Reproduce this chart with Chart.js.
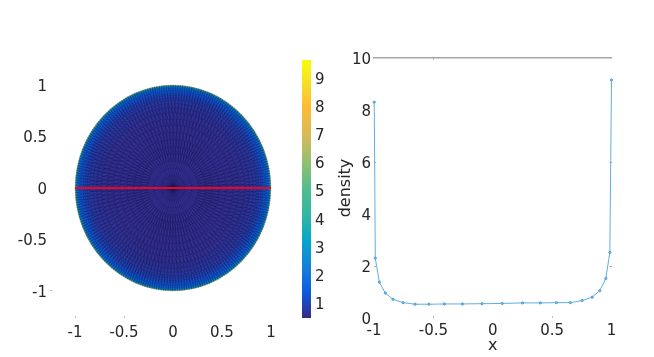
<!DOCTYPE html>
<html>
<head>
<meta charset="utf-8">
<style>
    html, body { margin: 0; padding: 0; background: #fff; }
    canvas { position: absolute; left: 0; top: 0; }
</style>
<script src="https://cdn.jsdelivr.net/npm/chart.js@4"></script>
</head>
<body>
<canvas id="diskChart" width="654" height="357"></canvas>
<canvas id="barChart" width="654" height="357"></canvas>
<canvas id="densityChart" width="654" height="357"></canvas>
<script>
// ===== DATA =====
const densityX = [-0.998, -0.989, -0.955, -0.905, -0.84, -0.755, -0.654, -0.538, -0.407, -0.255, -0.091, 0.08, 0.251, 0.401, 0.536, 0.654, 0.753, 0.837, 0.901, 0.952, 0.986, 1.0];
const densityY = [8.3, 2.3, 1.38, 0.96, 0.72, 0.59, 0.53, 0.53, 0.54, 0.54, 0.55, 0.56, 0.58, 0.58, 0.59, 0.59, 0.67, 0.8, 1.05, 1.52, 2.52, 9.15];

const diskTicks = [-1, -0.5, 0, 0.5, 1];
const colorbarTicks = [1, 2, 3, 4, 5, 6, 7, 8, 9];
const densityXTicks = [-1, -0.5, 0, 0.5, 1];
const densityYTicks = [0, 2, 4, 6, 8, 10];

// section line across the disk
const sectionX = [-1, 1];
const sectionY = [0, 0];

// mesh rings (outer radius) and the density shown in each ring
const ringRadius = [1.0, 0.993, 0.982, 0.97, 0.955, 0.94, 0.92, 0.9, 0.875, 0.85, 0.82, 0.78, 0.73, 0.67, 0.61, 0.54, 0.47, 0.4, 0.33, 0.26, 0.19, 0.12];
const ringDensity = [5.6, 2.6, 2.0, 1.7, 1.45, 1.25, 1.05, 0.92, 0.82, 0.74, 0.68, 0.62, 0.58, 0.56, 0.55, 0.55, 0.55, 0.55, 0.55, 0.55, 0.55, 0.55];
const ringSpokes = [260, 260, 260, 260, 260, 200, 200, 200, 200, 150, 150, 150, 120, 120, 96, 96, 96, 96, 72, 72, 48, 48];

// colour scale, value -> colour
const colorValues = [0.47, 1.4, 2.3, 3.2, 4.1, 5.0, 6.0, 7.0, 8.0, 9.0, 9.64];
const colorStops = ['#352a87', '#0f5cdd', '#1481d6', '#06a4ca', '#2eb7a4', '#4fbc8f', '#92bf73', '#d9ba56', '#fdbb35', '#f6e620', '#f9fb0e'];

const textColor = '#262626';
const tickFont = { family: '"DejaVu Sans"', size: 15 };
const titleFont = { family: '"DejaVu Sans"', size: 16 };

function densityColor(value) {
    for (let i = 1; i < colorValues.length; i++) {
        if (value <= colorValues[i]) {
            const t = (value - colorValues[i - 1]) / (colorValues[i] - colorValues[i - 1]);
            const a = parseInt(colorStops[i - 1].slice(1), 16);
            const b = parseInt(colorStops[i].slice(1), 16);
            const mix = shift => Math.round(((a >> shift) & 255) * (1 - t) + ((b >> shift) & 255) * t);
            return `rgb(${mix(16)}, ${mix(8)}, ${mix(0)})`;
        }
    }
    return colorStops[colorStops.length - 1];
}

function fixedTicks(values) {
    return scale => { scale.ticks = values.map(v => ({ value: v })); };
}

// y tick labels sit a bit lower than canvas middle baseline gives
const labelNudgePlugin = {
    id: 'labelNudge',
    beforeDraw(chart) {
        Object.values(chart.scales).forEach(scale => {
            if (scale.axis === 'y' && scale.options.ticks.display) {
                scale.getLabelItems().forEach(item => { item.options.translation[1] += 2; });
            }
        });
    }
};

// fills the disk rings and strokes the triangle mesh, all through the chart scales
const meshPlugin = {
    id: 'mesh',
    beforeDatasetsDraw(chart) {
        const { ctx, scales: { x, y } } = chart;
        const cx = x.getPixelForValue(0);
        const cy = y.getPixelForValue(0);
        const rx = r => x.getPixelForValue(r) - cx;
        const ry = r => cy - y.getPixelForValue(r);
        const px = (r, a) => cx + rx(r) * Math.cos(a);
        const py = (r, a) => cy + ry(r) * Math.sin(a);

        ctx.save();
        ringRadius.forEach((r, i) => {
            ctx.fillStyle = densityColor(ringDensity[i]);
            ctx.beginPath();
            ctx.ellipse(cx, cy, rx(r), ry(r), 0, 0, Math.PI * 2);
            ctx.fill();
        });

        // spokes and diagonals
        ctx.strokeStyle = 'rgba(0, 0, 30, 0.5)';
        ctx.lineWidth = 0.45;
        ctx.beginPath();
        ringRadius.forEach((r, i) => {
            const inner = i + 1 < ringRadius.length ? ringRadius[i + 1] : 0;
            const n = ringSpokes[i];
            for (let k = 0; k < n; k++) {
                const a = k / n * Math.PI * 2;
                const b = (k + 0.5) / n * Math.PI * 2;
                ctx.moveTo(px(r, a), py(r, a));
                ctx.lineTo(px(inner, a), py(inner, a));
                if (r > 0.3) {
                    ctx.moveTo(px(r, a), py(r, a));
                    ctx.lineTo(px(inner, b), py(inner, b));
                }
            }
        });
        ctx.stroke();

        // rings, fainter than the spokes
        ctx.strokeStyle = 'rgba(0, 0, 30, 0.22)';
        ctx.beginPath();
        ringRadius.forEach(r => {
            ctx.moveTo(cx + rx(r), cy);
            ctx.ellipse(cx, cy, rx(r), ry(r), 0, 0, Math.PI * 2);
        });
        ctx.stroke();

        ctx.fillStyle = '#15103a';
        ctx.beginPath();
        ctx.arc(cx, cy, 1.5, 0, Math.PI * 2);
        ctx.fill();
        ctx.restore();
    }
};

function initializeDiskChart() {
    new Chart(document.getElementById('diskChart'), {
        type: 'scatter',
        data: {
            datasets: [{
                data: sectionX.map((x, i) => ({ x: x, y: sectionY[i] })),
                showLine: true,
                borderColor: '#f5001e',
                borderWidth: 2.2,
                pointRadius: 0
            }]
        },
        options: {
            responsive: false,
            animation: false,
            layout: { padding: { left: 0, top: 60, right: 360, bottom: 0 } },
            plugins: { legend: { display: false }, tooltip: { enabled: false } },
            scales: {
                x: {
                    type: 'linear', min: -1.235, max: 1.235,
                    afterBuildTicks: fixedTicks(diskTicks),
                    afterFit(scale) { scale.height = 41; },
                    border: { display: false },
                    grid: { drawOnChartArea: false, tickLength: 2, tickColor: c => c.tick.value < 0 ? '#bbb' : 'transparent' },
                    ticks: { color: textColor, font: tickFont, padding: 6, maxRotation: 0, callback: v => String(v) }
                },
                y: {
                    type: 'linear', min: -1.243, max: 1.243,
                    afterBuildTicks: fixedTicks(diskTicks),
                    afterFit(scale) { scale.width = 52; },
                    border: { display: false },
                    grid: { drawOnChartArea: false, tickLength: 2, tickColor: c => c.tick.value === -1 ? '#bbb' : 'transparent' },
                    ticks: { color: textColor, font: tickFont, padding: 3, callback: v => String(v) }
                }
            }
        },
        plugins: [meshPlugin, labelNudgePlugin]
    });
}

function initializeColorbar() {
    new Chart(document.getElementById('barChart'), {
        type: 'bar',
        data: {
            labels: ['density'],
            datasets: [{
                data: [[colorValues[0], colorValues[colorValues.length - 1]]],
                barPercentage: 1,
                categoryPercentage: 1,
                backgroundColor(context) {
                    const { ctx, chartArea, scales } = context.chart;
                    if (!chartArea) return colorStops[0];
                    const gradient = ctx.createLinearGradient(0, chartArea.bottom, 0, chartArea.top);
                    const span = scales.y.max - scales.y.min;
                    colorValues.forEach((v, i) => gradient.addColorStop((v - scales.y.min) / span, colorStops[i]));
                    return gradient;
                }
            }]
        },
        options: {
            responsive: false,
            animation: false,
            layout: { padding: { left: 302, top: 60, right: 0, bottom: 39 } },
            plugins: { legend: { display: false }, tooltip: { enabled: false } },
            scales: {
                x: { display: false },
                y: {
                    position: 'right',
                    min: colorValues[0], max: colorValues[colorValues.length - 1],
                    afterBuildTicks: fixedTicks(colorbarTicks),
                    afterFit(scale) { scale.width = 343; },
                    border: { display: false },
                    grid: { drawOnChartArea: false, tickLength: -2, tickColor: 'rgba(60, 60, 60, 0.45)' },
                    ticks: { color: textColor, font: tickFont, padding: 6 }
                }
            }
        },
        plugins: [labelNudgePlugin]
    });
}

function initializeDensityChart() {
    new Chart(document.getElementById('densityChart'), {
        type: 'scatter',
        data: {
            datasets: [{
                data: densityX.map((x, i) => ({ x: x, y: densityY[i] })),
                showLine: true,
                borderColor: '#62addf',
                borderWidth: 1,
                pointRadius: 1.1,
                pointBorderWidth: 1,
                pointBorderColor: '#3f9bd8',
                pointBackgroundColor: '#8cc4ea',
                clip: false
            }]
        },
        options: {
            responsive: false,
            animation: false,
            layout: { padding: { left: 336, top: 58, right: 42.5, bottom: 2 } },
            plugins: { legend: { display: false }, tooltip: { enabled: false } },
            scales: {
                x: {
                    type: 'linear', min: -1, max: 1,
                    afterBuildTicks: fixedTicks(densityXTicks),
                    afterFit(scale) { scale.height = 37; },
                    border: { display: false },
                    grid: { drawOnChartArea: false, tickLength: -2, tickColor: c => Math.abs(c.tick.value) === 0.5 ? '#bbb' : 'transparent' },
                    ticks: { color: textColor, font: tickFont, padding: 6, maxRotation: 0, callback: v => String(v) },
                    title: { display: true, text: 'x', color: textColor, font: titleFont, padding: 0 }
                },
                xTop: {
                    type: 'linear', position: 'top', min: -1, max: 1,
                    afterBuildTicks: fixedTicks([-0.5]),
                    afterFit(scale) { scale.height = 0; },
                    border: { display: true, color: '#a6a6a6', width: 1.5 },
                    grid: { drawOnChartArea: false, tickLength: -2, tickColor: '#bbb' },
                    ticks: { display: false }
                },
                y: {
                    type: 'linear', min: 0, max: 10,
                    afterBuildTicks: fixedTicks(densityYTicks),
                    afterFit(scale) { scale.width = 38; },
                    border: { display: false },
                    grid: { drawOnChartArea: false, tickLength: -2, tickColor: c => c.tick.value === 2 || c.tick.value === 6 ? '#aaa' : 'transparent' },
                    ticks: { color: textColor, font: tickFont, padding: 5 },
                    title: { display: true, text: 'density', color: textColor, font: titleFont, padding: 0 }
                },
                yRight: {
                    type: 'linear', position: 'right', min: 0, max: 10,
                    afterBuildTicks: fixedTicks([2, 6]),
                    afterFit(scale) { scale.width = 0; },
                    border: { display: false },
                    grid: { drawOnChartArea: false, tickLength: -2, tickColor: '#aaa' },
                    ticks: { display: false }
                }
            }
        },
        plugins: [labelNudgePlugin]
    });
}

initializeDiskChart();
initializeColorbar();
initializeDensityChart();
</script>
</body>
</html>
